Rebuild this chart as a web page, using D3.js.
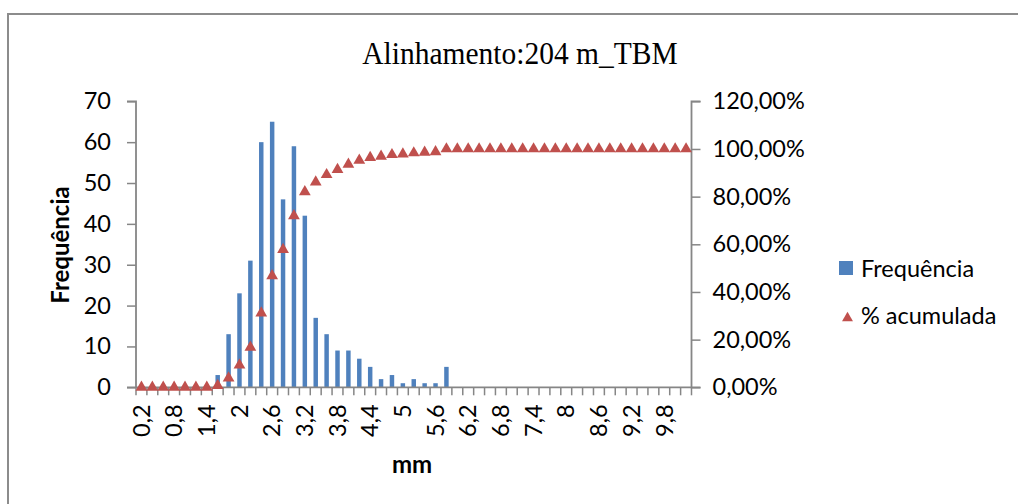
<!DOCTYPE html>
<html>
<head>
<meta charset="utf-8">
<script src="https://cdn.jsdelivr.net/npm/d3@7"></script>
<style>
  html, body { margin: 0; padding: 0; background: #fff; }
  svg { display: block; }
  text { font-family: Lato, "Open Sans", sans-serif; fill: #000; }
</style>
</head>
<body>
<svg id="chart" width="1018" height="504"></svg>
<script>
// ---- data ----
const categories = ["0,2","0,4","0,6","0,8","1","1,2","1,4","1,6","1,8","2","2,2","2,4","2,6","2,8","3","3,2","3,4","3,6","3,8","4","4,2","4,4","4,6","4,8","5","5,2","5,4","5,6","5,8","6","6,2","6,4","6,6","6,8","7","7,2","7,4","7,6","7,8","8","8,2","8,4","8,6","8,8","9","9,2","9,4","9,6","9,8","10","Mais"];
const frequencia = [0,0,0,0,0,0,0,3,13,23,31,60,65,46,59,42,17,13,9,9,7,5,2,3,1,2,1,1,5,0,0,0,0,0,0,0,0,0,0,0,0,0,0,0,0,0,0,0,0,0,0];
const acumulada = [0,0,0,0,0,0,0,0.72,3.84,9.35,16.79,31.18,46.76,57.79,71.94,82.01,86.09,89.21,91.37,93.53,95.20,96.40,96.88,97.60,97.84,98.32,98.56,98.80,100,100,100,100,100,100,100,100,100,100,100,100,100,100,100,100,100,100,100,100,100,100,100];
const leftTicks = [0,10,20,30,40,50,60,70];
const rightTicks = [0,20,40,60,80,100,120];
const title = "Alinhamento:204 m_TBM";
const xTitle = "mm";
const yTitle = "Frequência";
const seriesNames = ["Frequência", "% acumulada"];

// ---- layout ----
const svg = d3.select("#chart");
const L = 136, R = 691.5, T = 101.3, B = 387.3;
const axisColor = "#868686";
const blue = "#4F81BD", red = "#C0504D";
const fs = 23.5;

// outer border
svg.append("rect").attr("x", 8).attr("y", 14).attr("width", 1040).attr("height", 520)
  .attr("fill", "none").attr("stroke", "#8c8c8c").attr("stroke-width", 2);

// title
svg.append("text").attr("x", 520).attr("y", 64).attr("text-anchor", "middle")
  .attr("transform", "translate(0,-6) scale(1,1.1)")
  .style("font-family", "'Liberation Serif', 'Times New Roman', serif")
  .style("font-size", "29.5px").text(title);

const x = d3.scaleBand().domain(categories).range([L, R]).paddingInner(0).paddingOuter(0);
const yL = d3.scaleLinear().domain([0, 70]).range([B, T]);
const yR = d3.scaleLinear().domain([0, 120]).range([B, T]);

// bars
const bw = x.bandwidth() * 0.41;
svg.append("g").selectAll("rect").data(frequencia.map((v, i) => ({c: categories[i], v})))
  .join("rect")
  .attr("x", d => x(d.c) + (x.bandwidth() - bw) / 2)
  .attr("y", d => yL(d.v))
  .attr("width", bw)
  .attr("height", d => B - yL(d.v))
  .attr("fill", blue);

// left axis
const gL = svg.append("g").attr("transform", `translate(${L},0)`)
  .call(d3.axisLeft(yL).tickValues(leftTicks).tickSize(9).tickPadding(16).tickFormat(d3.format("d")));
// right axis
const gR = svg.append("g").attr("transform", `translate(${R},0)`)
  .call(d3.axisRight(yR).tickValues(rightTicks).tickSize(9).tickPadding(12)
    .tickFormat(d => d.toFixed(2).replace(".", ",") + "%"));
// bottom axis
const gB = svg.append("g").attr("transform", `translate(0,${B})`)
  .call(d3.axisBottom(x).tickSize(0).tickValues(categories.filter((c, i) => i % 3 === 0)));
gB.selectAll(".tick text")
  .attr("transform", "rotate(-90)")
  .attr("text-anchor", "end")
  .attr("x", -17).attr("y", 0).attr("dy", "0.35em");
// bottom ticks at category boundaries
const bounds = categories.map(c => x(c)).concat([R]);
gB.append("g").selectAll("line").data(bounds).join("line")
  .attr("x1", d => d).attr("x2", d => d).attr("y1", 0).attr("y2", 8)
  .attr("stroke", axisColor).attr("stroke-width", 1.5);

[gL, gR, gB].forEach(g => {
  g.select(".domain").attr("stroke", axisColor).attr("stroke-width", 1.8);
  g.selectAll(".tick line").attr("stroke", axisColor).attr("stroke-width", 1.5);
  g.selectAll(".tick text").style("font-size", fs + "px").style("font-family", "Lato, sans-serif").attr("fill", "#000");
});
gL.select(".domain").attr("d", `M-9,${T}H0V${B}H-9`);
gR.select(".domain").attr("d", `M9,${T}H0V${B}H9`);
gB.select(".domain").attr("d", `M${L},0H${R}`);

// cumulative markers (triangles)
const tri = d3.symbol().type(d3.symbolTriangle).size(60);
svg.append("g").selectAll("path").data(acumulada.map((v, i) => ({c: categories[i], v})))
  .join("path")
  .attr("d", tri)
  .attr("transform", d => `translate(${x(d.c) + x.bandwidth() / 2},${yR(d.v)})`)
  .attr("fill", red);

// axis titles
svg.append("text").attr("x", 412).attr("y", 473).attr("text-anchor", "middle")
  .style("font-size", "24px").style("font-weight", "bold").text(xTitle);
svg.append("text").attr("transform", "translate(69,245) rotate(-90)").attr("text-anchor", "middle")
  .style("font-size", "24px").style("font-weight", "bold").text(yTitle);

// legend
const lg = svg.append("g");
lg.append("rect").attr("x", 839).attr("y", 261).attr("width", 14).attr("height", 14).attr("fill", blue);
lg.append("text").attr("x", 861).attr("y", 277).style("font-size", fs + "px").text(seriesNames[0]);
lg.append("path").attr("d", d3.symbol().type(d3.symbolTriangle).size(52))
  .attr("transform", "translate(847.5,318)").attr("fill", red);
lg.append("text").attr("x", 861).attr("y", 324).style("font-size", fs + "px").text(seriesNames[1]);
</script>
</body>
</html>
